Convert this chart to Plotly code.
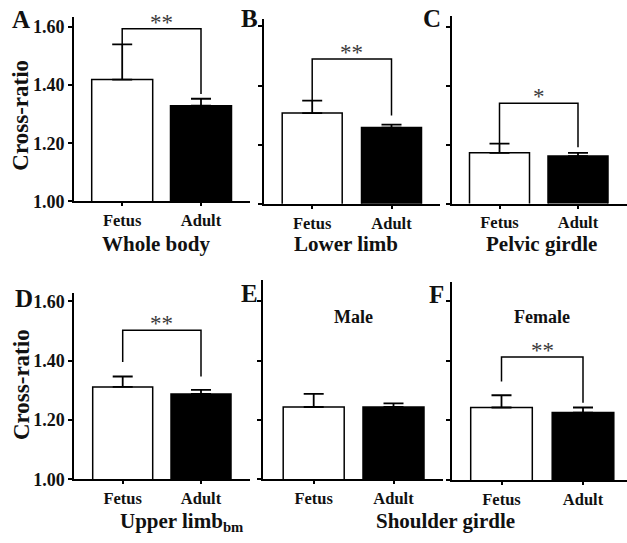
import plotly.graph_objects as go

W, H = 627, 543

# ---------------- data ----------------
panels = ["A", "B", "C", "D", "E", "F"]
groups = ["Fetus", "Adult"]
fetus_mean = [1.419, 1.307, 1.172, 1.312, 1.244, 1.243]
adult_mean = [1.329, 1.258, 1.161, 1.288, 1.244, 1.226]
fetus_err = [0.121, 0.042, 0.031, 0.035, 0.044, 0.041]
adult_err = [0.024, 0.010, 0.011, 0.014, 0.012, 0.017]
# significance brackets: top, left-leg bottom, right-leg bottom, label (None = no bracket)
bracket_top = [1.594, 1.490, 1.340, 1.503, None, 1.412]
bracket_left = [1.540, 1.349, 1.203, 1.396, None, 1.330]
bracket_right = [1.369, 1.299, 1.191, 1.347, None, 1.259]
bracket_label = ["**", "**", "*", "**", None, "**"]
region_labels = ["Whole body", "Lower limb", "Pelvic girdle", "Upper limb<sub>bm</sub>", "Shoulder girdle"]
sex_labels = [None, None, None, None, "Male", "Female"]
y_ticks = [1.0, 1.2, 1.4, 1.6]
y_ticktext = ["1.00", "1.20", "1.40", "1.60"]

# ---------------- layout geometry (pixels) ----------------
# x0, x1, centre0, centre1, bar width, baseline y, axis top y, px per unit
geom = {
    "A": (74.0, 249.5, 122.2, 201.0, 61, 204.5, 16.0, 296.7),
    "B": (263.5, 440.0, 312.2, 391.5, 60, 207.0, 18.0, 301.7),
    "C": (452.3, 627.0, 499.5, 578.0, 60, 206.7, 15.0, 301.0),
    "D": (74.3, 250.0, 122.7, 201.0, 60, 488.3, 298.3, 302.7),
    "E": (263.3, 443.0, 313.7, 393.5, 61, 488.3, 285.0, 303.0),
    "F": (451.7, 627.0, 501.5, 583.0, 61.6, 489.0, 286.7, 305.0),
}

SERIF = "Liberation Serif, Times New Roman, serif"
INK = "#111111"

fig = go.Figure()
layout = dict(
    width=W, height=H, margin=dict(l=0, r=0, t=0, b=0),
    paper_bgcolor="white", plot_bgcolor="white", showlegend=False,
    font=dict(family=SERIF, color=INK),
)
annotations = []

for i, p in enumerate(panels):
    x0, x1, c0, c1, bw, basepx, toppx, ppu = geom[p]
    s = c1 - c0
    xr = [-(c0 - x0) / s, 1 + (x1 - c1) / s]
    ymax = 1.0 + (basepx - toppx) / ppu
    xa = "x" if i == 0 else f"x{i+1}"
    ya = "y" if i == 0 else f"y{i+1}"
    xkey = "xaxis" if i == 0 else f"xaxis{i+1}"
    ykey = "yaxis" if i == 0 else f"yaxis{i+1}"

    fig.add_trace(go.Bar(
        x=[0, 1], y=[fetus_mean[i], adult_mean[i]],
        width=bw / s,
        marker=dict(color=["white", "black"], line=dict(color="black", width=1.5)),
        error_y=dict(type="data", symmetric=False,
                     array=[fetus_err[i], adult_err[i]], arrayminus=[0, 0],
                     color="black", thickness=1.8, width=10),
        xaxis=xa, yaxis=ya, hoverinfo="y",
    ))

    if bracket_top[i] is not None:
        fig.add_trace(go.Scatter(
            x=[0, 0, 1, 1],
            y=[bracket_left[i], bracket_top[i], bracket_top[i], bracket_right[i]],
            mode="lines", line=dict(color="black", width=1.5),
            xaxis=xa, yaxis=ya, hoverinfo="skip",
        ))
        annotations.append(dict(
            x=0.5, y=bracket_top[i], xref=xa, yref=ya, text=bracket_label[i],
            showarrow=False, yanchor="bottom", yshift=-8,
            font=dict(family=SERIF, size=23, color="#3a3a3a"),
        ))

    layout[xkey] = dict(
        domain=[x0 / W, x1 / W], range=xr, anchor=ya,
        tickmode="array", tickvals=[0, 1], ticktext=groups,
        ticks="outside", ticklen=3, tickwidth=1.5, tickcolor="black",
        showline=True, linecolor="black", linewidth=2,
        showgrid=False, zeroline=False, fixedrange=True,
        tickfont=dict(family=SERIF, size=16.5, color=INK, weight="bold"),
    )
    layout[ykey] = dict(
        domain=[(H - basepx) / H, (H - toppx) / H], range=[1.0, ymax], anchor=xa,
        tickmode="array", tickvals=y_ticks, ticktext=y_ticktext,
        showticklabels=(p in ("A", "D")),
        ticks="outside", ticklen=4, tickwidth=1.5, tickcolor="black",
        showline=True, linecolor="black", linewidth=2,
        showgrid=False, zeroline=False, fixedrange=True,
        tickfont=dict(family=SERIF, size=18, color=INK, weight="bold"),
    )

    if sex_labels[i]:
        annotations.append(dict(
            x=0.5, y=1.0 + (basepx - 323.0) / ppu, xref=xa, yref=ya,
            text=sex_labels[i], showarrow=False,
            font=dict(family=SERIF, size=18, color=INK, weight="bold"),
        ))

# panel letters
letter_pos = {"A": (21, 19), "B": (249, 18), "C": (432, 18),
              "D": (24, 304), "E": (249, 299), "F": (436, 300)}
for p in panels:
    lx, ly = letter_pos[p]
    annotations.append(dict(
        x=lx / W, y=1 - ly / H, xref="paper", yref="paper", text=p,
        showarrow=False, xanchor="center", yanchor="middle",
        font=dict(family=SERIF, size=25, color=INK, weight="bold"),
    ))

# y-axis titles
for cy in (117, 392):
    annotations.append(dict(
        x=21 / W, y=1 - cy / H, xref="paper", yref="paper", text="Cross-ratio",
        textangle=-90, showarrow=False, xanchor="center", yanchor="middle",
        font=dict(family=SERIF, size=23, color=INK, weight="bold"),
    ))

# region titles
region_pos = [(156, 248), (346, 248), (541, 248), (181, 532), (445, 531)]
for txt, (rx, ry) in zip(region_labels, region_pos):
    annotations.append(dict(
        x=rx / W, y=1 - ry / H, xref="paper", yref="paper", text=txt,
        showarrow=False, xanchor="center", yanchor="middle",
        font=dict(family=SERIF, size=21, color=INK, weight="bold"),
    ))

layout["annotations"] = annotations
fig.update_layout(**layout)
fig.write_html("out.html")
